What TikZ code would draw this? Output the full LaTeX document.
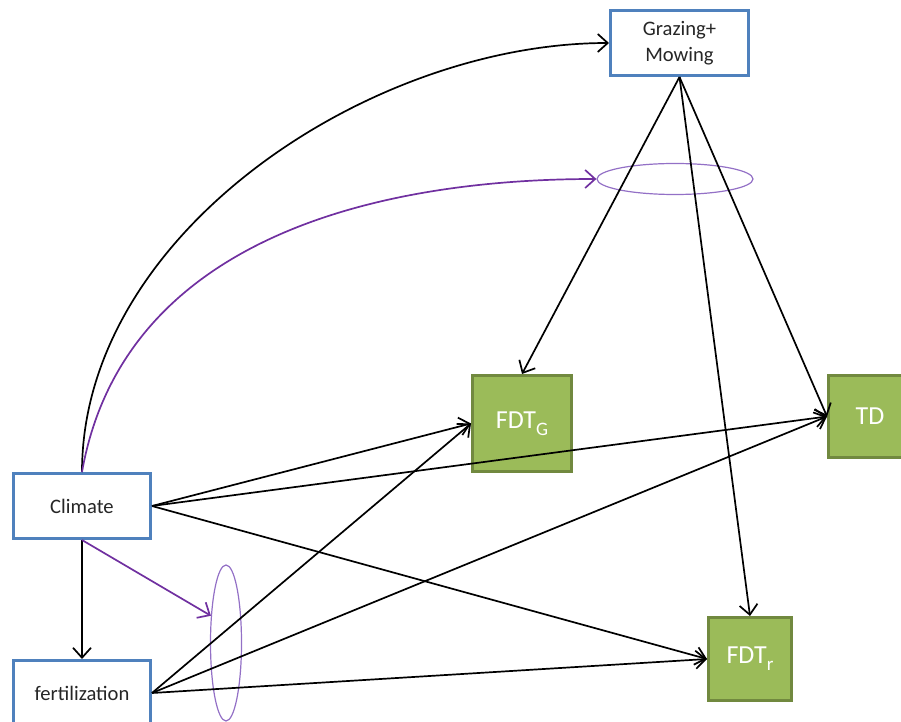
\documentclass[tikz,border=0pt]{standalone}
\usepackage{fontspec}
\setmainfont{Carlito}
\usetikzlibrary{arrows.meta}
\usetikzlibrary{shapes.geometric}
\definecolor{boxblue}{HTML}{4F81BD}
\definecolor{boxgreen}{HTML}{9BBB59}
\definecolor{edgegreen}{HTML}{71893F}
\definecolor{arrpurple}{HTML}{7030A0}
\definecolor{ellpurple}{HTML}{9370C6}
\tikzset{>={Straight Barb[length=5pt,width=9pt]}}
\tikzset{var/.style={draw=boxblue,line width=1.5pt,fill=white,align=center,inner sep=0pt,
    text=black!85,font=\fontsize{10.3}{13}\selectfont}}
\tikzset{resp/.style={draw=edgegreen,line width=1.5pt,fill=boxgreen,inner sep=0pt,
    text=white,font=\fontsize{13}{15}\selectfont}}
\tikzset{grp/.style={ellipse,draw=ellpurple,line width=0.6pt,inner sep=0pt}}
\tikzset{eff/.style={->,line width=0.85pt}}
\newcommand{\lowsub}[1]{\raisebox{-3.4pt}{\fontsize{9.5}{11}\selectfont #1}}

\begin{document}
\begin{tikzpicture}[x=0.5pt,y=-0.5pt]
    \useasboundingbox (0,0) rectangle (901,722);

    \node[var,minimum width=69pt,minimum height=32.5pt] (graz) at (679.5,43) {Grazing+\\Mowing};
    \node[var,minimum width=68.5pt,minimum height=32.5pt] (clim) at (82,506) {Climate};
    \node[var,minimum width=68.5pt,minimum height=32.5pt] (fert) at (82,693) {fertilization};

    \node[resp,minimum width=49.5pt,minimum height=48pt] (fdtg) at (522,423.5) {FDT\lowsub{G}};
    \node[resp,minimum width=41.5pt,minimum height=41pt] (td) at (870,416.5) {TD};
    \node[resp,minimum width=41.5pt,minimum height=41.5pt] (fdtr) at (750,659) {FDT\lowsub{r}};

    \node[grp,minimum width=78pt,minimum height=15.5pt] (ellg) at (675,179) {};
    \node[grp,minimum width=15.5pt,minimum height=78pt] (ellf) at (226,643) {};

    % climate paths
    \draw[eff] (clim.north) to[out=90,in=180,looseness=0.9] (graz.west);
    \draw[eff,arrpurple] (clim.north) to[out=80,in=180] (ellg.west);
    \draw[eff] (clim.south) -- (fert.north);
    \draw[eff,arrpurple] (clim.south) -- (ellf.119);
    \draw[eff] (clim.east) -- (fdtg.west);
    \draw[eff] (clim.east) -- (td.west);
    \draw[eff] (clim.east) -- (fdtr.west);

    % management paths
    \draw[eff] (graz.south) -- (fdtg.north);
    \draw[eff] (graz.south) -- (td.west);
    \draw[eff] (graz.south) -- (fdtr.north);
    \draw[eff] (fert.east) -- (fdtg.west);
    \draw[eff] (fert.east) -- (td.west);
    \draw[eff] (fert.east) -- (fdtr.west);
\end{tikzpicture}
\end{document}
